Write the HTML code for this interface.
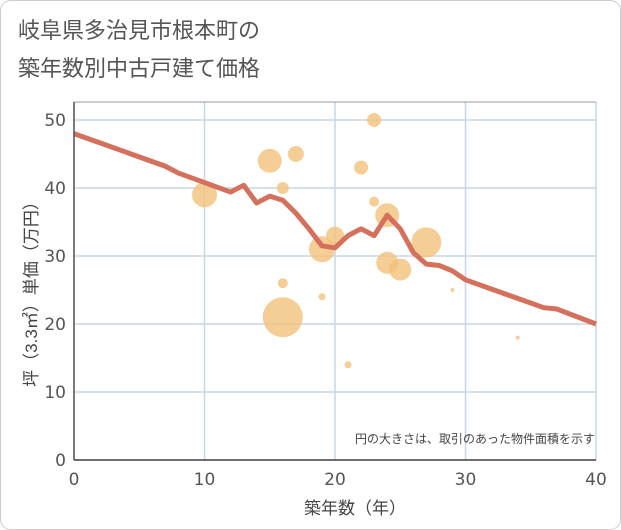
<!DOCTYPE html>
<html><head><meta charset="utf-8"><style>
body{margin:0;background:#fff;font-family:"Liberation Sans","Noto Sans CJK JP",sans-serif;}
</style></head><body>
<svg width="621" height="530" style="display:block">
<rect x="0.5" y="0.5" width="620" height="529" rx="10" fill="#fff" stroke="#cccccc"/>
<text x="18" y="38" font-size="22" fill="#555" font-family="Liberation Sans,Noto Sans CJK JP,sans-serif">岐阜県多治見市根本町の</text>
<text x="18" y="76" font-size="22" fill="#555" font-family="Liberation Sans,Noto Sans CJK JP,sans-serif">築年数別中古戸建て価格</text>
<g id="grid"></g>
<g id="bubbles"></g>
<g id="line"></g>
<g id="axes"></g>
<text x="595" y="443" font-size="12" fill="#444" text-anchor="end" font-family="Liberation Sans,Noto Sans CJK JP,sans-serif">円の大きさは、取引のあった物件面積を示す</text>
<text x="355" y="514" font-size="17" fill="#444" text-anchor="middle" font-family="Liberation Sans,Noto Sans CJK JP,sans-serif">築年数（年）</text>
<text transform="translate(37,290) rotate(-90)" font-size="17" fill="#444" text-anchor="middle" font-family="Liberation Sans,Noto Sans CJK JP,sans-serif">坪（3.3㎡）単価（万円）</text>
</svg>
<script>
const xTicks=[0,10,20,30,40];
const yTicks=[0,10,20,30,40,50];
const bubbleX=[10,15,16,17,16,16,19,20,19,21,22,23,23,24,24,25,27,29,34];
const bubbleY=[39,44,40,45,26,21,31,33,24,14,43,50,38,36,29,28,32,25,18];
const bubbleR=[12.5,12,6,8,5,20,13,9,3.5,3.5,7,7,5,12,11,11,15,2,2];
const lineX=[0,7,8,10,12,13,14,15,16,17,18,19,20,21,22,23,24,25,26,27,28,29,30,36,37,40];
const lineY=[48,43.2,42.2,40.8,39.4,40.4,37.8,38.8,38.2,36.3,34,31.5,31.2,33,34,33,36,34,30.5,28.8,28.6,27.8,26.5,22.4,22.2,20];
const X0=74,X1=596,Y0=460,Y1=120;
const sx=v=>X0+(X1-X0)*v/40, sy=v=>Y0-(Y0-Y1)*v/50;
const NS='http://www.w3.org/2000/svg';
function mk(t,a,p){const e=document.createElementNS(NS,t);for(const k in a)e.setAttribute(k,a[k]);p.appendChild(e);return e;}
const grid=document.getElementById('grid'),axes=document.getElementById('axes');
mk('rect',{x:X0,y:102,width:X1-X0,height:Y0-102,fill:'#fff'},grid);
xTicks.forEach(v=>{const l=mk('line',{x1:sx(v),x2:sx(v),y1:102,y2:Y0,stroke:'#c8d6e6','stroke-width':1.5},grid);


const t=mk('text',{x:sx(v),y:485,'font-size':17,fill:'#555','text-anchor':'middle','font-family':'DejaVu Sans,sans-serif'},axes);t.textContent=v;

});
yTicks.forEach(v=>{const l=mk('line',{x1:X0,x2:X1,y1:sy(v),y2:sy(v),stroke:'#c8d6e6','stroke-width':1.5},grid);


const t=mk('text',{x:66,y:sy(v)+6,'font-size':17,fill:'#555','text-anchor':'end','font-family':'DejaVu Sans,sans-serif'},axes);t.textContent=v;

});
mk('line',{x1:X0,x2:X1,y1:102,y2:102,stroke:'#999','stroke-width':1},grid);
mk('line',{x1:X0,x2:X0,y1:102,y2:Y0,stroke:'#555','stroke-width':1.5},axes);
mk('line',{x1:X0,x2:X1,y1:Y0,y2:Y0,stroke:'#444','stroke-width':1.5},axes);
const bg=document.getElementById('bubbles');
bubbleX.forEach((v,i)=>{const c=mk('circle',{cx:sx(v),cy:sy(bubbleY[i]),r:bubbleR[i],fill:'#f3c27a','fill-opacity':0.8},bg);

});
const p=mk('polyline',{points:lineX.map((v,i)=>sx(v)+','+sy(lineY[i])).join(' '),fill:'none',stroke:'#d4705c','stroke-width':5,'stroke-linejoin':'round'},document.getElementById('line'));


</script>
</body></html>
